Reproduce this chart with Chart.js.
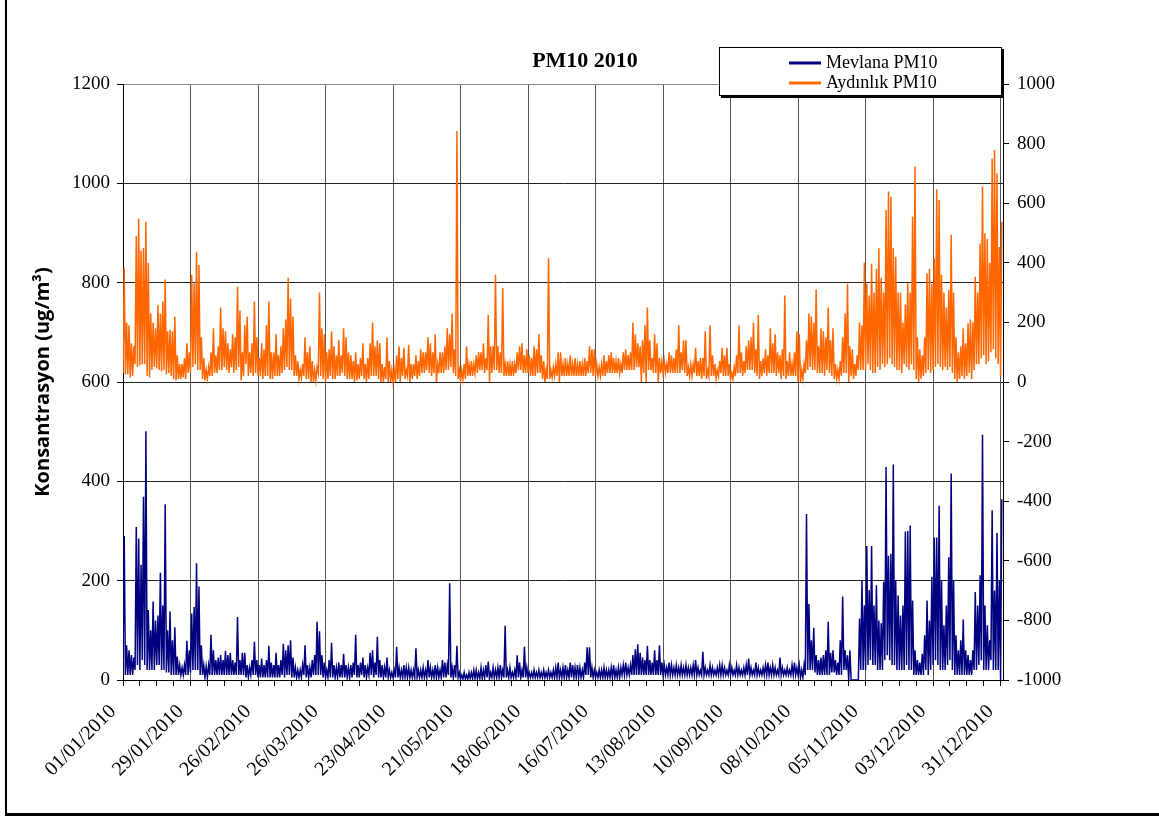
<!DOCTYPE html>
<html lang="tr">

<head>
    <meta charset="UTF-8">
    <title>PM10 2010</title>
    <style>
        body { margin: 0; background: #fff; }
        canvas { display: block; }
    </style>
</head>

<body>
    <canvas id="grafico" width="1159" height="818"></canvas>

    <script src="https://cdn.jsdelivr.net/npm/chart.js@4.4.1/dist/chart.umd.min.js"></script>
    <script>

        // textos do grafico
        const tituloGrafico = 'PM10 2010';
        const tituloEixoY = 'Konsantrasyon (ug/m³)';
        const nomesSeries = ['Mevlana PM10', 'Aydınlık PM10'];

        // rotulos do eixo x (a cada 28 dias)
        const rotulosDatas = ['01/01/2010', '29/01/2010', '26/02/2010', '26/03/2010', '23/04/2010', '21/05/2010',
            '18/06/2010', '16/07/2010', '13/08/2010', '10/09/2010', '08/10/2010', '05/11/2010', '03/12/2010', '31/12/2010'];

        const ticksEsquerda = [0, 200, 400, 600, 800, 1000, 1200];
        const ticksDireita = [-1000, -800, -600, -400, -200, 0, 200, 400, 600, 800, 1000];

        // valores: maximo e minimo de cada dia (ug/m3), 1 linha = 28 dias
        const mevlanaMax = [
            290, 70, 60, 50, 45, 308, 285, 232, 369, 501, 141, 100, 158, 120, 130, 216, 150, 354, 100, 138, 80, 106, 47, 30, 25, 30, 79, 60,
            134, 147, 235, 188, 70, 30, 27, 30, 91, 60, 40, 45, 50, 40, 59, 50, 55, 40, 35, 127, 40, 55, 55, 30, 25, 40, 77, 40,
            30, 43, 30, 40, 69, 35, 30, 55, 30, 40, 73, 60, 70, 80, 45, 25, 20, 20, 30, 70, 30, 25, 40, 50, 117, 98, 50, 35,
            20, 40, 75, 30, 25, 35, 30, 53, 30, 25, 30, 35, 91, 30, 35, 45, 30, 25, 55, 60, 35, 87, 40, 30, 25, 45, 20, 15,
            20, 67, 25, 20, 30, 25, 25, 20, 20, 64, 20, 20, 25, 20, 40, 25, 20, 30, 25, 20, 40, 35, 30, 195, 25, 30, 69, 15,
            10, 15, 10, 15, 15, 20, 20, 15, 25, 20, 30, 37, 15, 25, 20, 25, 30, 20, 109, 20, 25, 15, 20, 50, 35, 20, 67, 25,
            15, 15, 20, 15, 20, 15, 20, 15, 20, 15, 20, 25, 35, 20, 25, 30, 20, 35, 30, 25, 30, 25, 20, 35, 66, 66, 25, 20,
            15, 20, 20, 25, 20, 20, 25, 30, 20, 25, 25, 30, 35, 25, 30, 50, 62, 72, 55, 45, 40, 69, 40, 35, 60, 40, 70, 35,
            30, 25, 35, 30, 25, 30, 25, 30, 25, 30, 25, 25, 30, 40, 25, 20, 57, 25, 20, 30, 25, 20, 25, 30, 30, 25, 20, 30,
            25, 20, 30, 25, 20, 25, 30, 43, 25, 20, 35, 25, 20, 25, 30, 35, 25, 30, 25, 20, 45, 25, 20, 25, 20, 30, 35, 25,
            30, 20, 30, 334, 153, 80, 105, 50, 40, 45, 50, 60, 117, 55, 60, 40, 35, 80, 168, 60, 50, 60, 0, 0, 0, 124, 201, 150,
            270, 181, 270, 150, 191, 120, 114, 198, 429, 250, 254, 434, 200, 170, 130, 150, 299, 300, 311, 160, 60, 40, 35, 53, 90, 160, 120, 208,
            287, 287, 351, 200, 110, 150, 247, 416, 200, 90, 60, 80, 122, 60, 50, 40, 60, 177, 150, 211, 494, 150, 110, 80, 342, 180, 296, 200, 364
        ];
        const mevlanaMin = [
            20, 10, 10, 10, 10, 20, 30, 20, 40, 30, 20, 20, 20, 20, 30, 30, 20, 20, 15, 15, 10, 10, 10, 10, 10, 10, 10, 10,
            15, 20, 20, 20, 10, 10, 5, 5, 10, 10, 10, 10, 10, 10, 10, 10, 10, 10, 10, 10, 10, 10, 10, 5, 5, 10, 10, 10,
            5, 5, 5, 5, 5, 5, 5, 5, 5, 5, 10, 5, 10, 10, 5, 5, 5, 5, 5, 10, 5, 5, 5, 10, 10, 10, 10, 5,
            5, 5, 5, 5, 5, 5, 5, 5, 5, 5, 5, 5, 10, 5, 5, 10, 5, 5, 10, 10, 5, 10, 5, 5, 5, 5, 5, 5,
            5, 5, 5, 5, 5, 5, 5, 5, 5, 5, 5, 5, 5, 5, 5, 5, 5, 5, 5, 5, 5, 5, 5, 10, 5, 5, 5, 5,
            2, 2, 2, 2, 3, 3, 3, 3, 3, 3, 5, 5, 3, 5, 5, 5, 5, 5, 5, 5, 5, 5, 5, 5, 5, 5, 5, 5,
            5, 5, 5, 5, 5, 5, 5, 5, 5, 5, 5, 5, 5, 5, 5, 5, 5, 5, 5, 5, 5, 5, 5, 5, 10, 10, 5, 5,
            5, 5, 5, 5, 5, 5, 5, 5, 5, 5, 5, 10, 10, 10, 10, 10, 10, 10, 10, 10, 10, 10, 10, 10, 10, 10, 10, 10,
            10, 10, 10, 10, 10, 10, 10, 10, 10, 10, 10, 10, 10, 10, 10, 10, 10, 10, 10, 10, 10, 10, 10, 10, 10, 10, 10, 10,
            10, 10, 10, 10, 10, 10, 10, 10, 10, 10, 10, 10, 10, 10, 10, 10, 10, 10, 10, 10, 10, 10, 10, 10, 10, 10, 10, 10,
            10, 5, 5, 10, 20, 20, 20, 15, 10, 10, 10, 10, 10, 10, 15, 15, 10, 10, 10, 20, 20, 0, 0, 0, 0, 0, 20, 20,
            20, 30, 40, 30, 30, 20, 20, 20, 40, 50, 40, 30, 30, 20, 20, 20, 20, 30, 20, 20, 10, 10, 10, 10, 10, 20, 10, 20,
            30, 40, 30, 20, 20, 20, 30, 40, 20, 10, 10, 10, 10, 10, 10, 10, 10, 20, 20, 30, 40, 20, 20, 20, 40, 20, 20, 20, 0
        ];
        const aydinlikMax = [
            381, 200, 190, 130, 120, 490, 549, 440, 450, 538, 400, 230, 200, 180, 258, 230, 270, 344, 170, 175, 170, 220, 90, 60, 60, 80, 130, 100,
            360, 330, 437, 393, 150, 80, 40, 50, 100, 180, 90, 120, 250, 180, 170, 130, 110, 160, 150, 320, 240, 100, 190, 220, 100, 130, 270, 150,
            80, 130, 110, 190, 270, 100, 100, 160, 90, 120, 180, 210, 350, 280, 220, 90, 70, 40, 60, 150, 100, 120, 70, 40, 50, 300, 180, 160,
            100, 110, 170, 120, 90, 140, 90, 180, 150, 100, 90, 70, 100, 60, 80, 130, 60, 80, 130, 200, 120, 140, 130, 60, 50, 150, 70, 40,
            40, 90, 120, 80, 115, 40, 125, 60, 60, 90, 70, 110, 100, 100, 150, 130, 100, 160, 60, 100, 100, 120, 180, 160, 230, 110, 842, 40,
            40, 60, 120, 60, 70, 60, 90, 100, 100, 130, 80, 225, 120, 120, 360, 120, 100, 315, 60, 70, 60, 70, 60, 100, 120, 130, 90, 110,
            90, 80, 120, 110, 160, 90, 70, 40, 415, 40, 50, 60, 100, 100, 60, 80, 60, 90, 60, 80, 60, 70, 60, 80, 70, 120, 110, 110,
            60, 50, 60, 90, 70, 90, 100, 80, 70, 80, 60, 100, 110, 90, 100, 200, 160, 130, 120, 140, 190, 250, 140, 80, 160, 130, 80, 70,
            70, 60, 100, 90, 80, 110, 190, 100, 140, 140, 50, 60, 60, 115, 70, 80, 80, 170, 40, 190, 90, 60, 40, 70, 115, 90, 115, 60,
            30, 50, 90, 190, 100, 70, 120, 140, 150, 200, 110, 225, 70, 80, 110, 90, 180, 130, 160, 100, 90, 110, 290, 70, 100, 60, 100, 170,
            160, 40, 60, 140, 230, 220, 200, 310, 120, 180, 170, 150, 250, 140, 180, 60, 40, 70, 150, 230, 330, 120, 110, 60, 90, 200, 190, 400,
            330, 290, 397, 300, 380, 449, 350, 300, 577, 639, 622, 450, 420, 300, 300, 200, 260, 331, 300, 555, 723, 150, 110, 90, 150, 365, 380, 330,
            415, 647, 611, 360, 300, 250, 309, 494, 300, 150, 100, 120, 180, 130, 197, 210, 200, 353, 300, 465, 656, 499, 480, 400, 750, 778, 700, 453, 538
        ];
        const aydinlikMin = [
            30, 25, 25, 15, 20, 60, 50, 55, 60, 60, 20, 15, 40, 50, 45, 40, 35, 40, 25, 30, 20, 10, 5, 10, 10, 15, 10, 30,
            30, 50, 60, 40, 40, 10, 5, 10, 20, 20, 30, 30, 40, 40, 50, 40, 30, 50, 30, 40, 50, 5, 20, 60, 20, 30, 20, 30,
            20, 20, 10, 20, 20, 10, 10, 20, 20, 20, 30, 40, 50, 40, 40, 20, 20, 10, 15, 20, 10, 10, 0, 0, 5, 30, 20, 10,
            0, 10, 20, 10, 10, 20, 20, 30, 20, 10, 10, 10, 0, 5, 10, 20, 10, 0, 10, 20, 20, 20, 10, 0, 0, 10, 0, 0,
            0, 0, 10, 0, 20, 10, 20, 0, 10, 20, 10, 20, 30, 30, 40, 30, 20, 30, 0, 30, 30, 30, 40, 40, 50, 30, 20, 10,
            5, 10, 10, 20, 20, 20, 30, 30, 40, 40, 30, 40, 0, 30, 40, 40, 30, 30, 20, 20, 20, 20, 20, 30, 40, 40, 30, 30,
            30, 20, 20, 20, 30, 30, 10, 0, 10, 10, 15, 20, 20, 0, 20, 20, 20, 20, 20, 20, 20, 20, 20, 20, 20, 30, 30, 20,
            20, 20, 20, 20, 20, 30, 30, 30, 30, 30, 30, 30, 40, 40, 40, 40, 40, 50, 50, 0, 30, 0, 40, 40, 30, 30, 0, 30,
            30, 30, 30, 30, 30, 30, 30, 30, 40, 30, 20, 20, 20, 30, 20, 20, 10, 20, 10, 20, 20, 20, 10, 20, 30, 20, 20, 20,
            10, 10, 20, 30, 30, 20, 30, 40, 40, 40, 30, 20, 10, 20, 30, 20, 30, 30, 30, 20, 30, 10, 20, 10, 20, 20, 20, 20,
            0, 0, 10, 30, 40, 50, 40, 40, 30, 30, 30, 20, 40, 30, 20, 10, 10, 10, 20, 30, 30, 0, 20, 10, 20, 40, 40, 40,
            40, 60, 40, 30, 30, 50, 40, 60, 50, 60, 80, 60, 50, 40, 40, 30, 60, 50, 40, 60, 40, 10, 0, 10, 20, 30, 40, 30,
            40, 50, 60, 50, 40, 50, 40, 50, 30, 10, 0, 10, 20, 10, 20, 30, 10, 40, 60, 60, 80, 90, 60, 70, 100, 110, 80, 60, 20
        ];

        const corMevlana = '#000080';
        const corAydinlik = '#FF6600';
        const fonteSerif = '"Liberation Serif", "Times New Roman", serif';

        // cada dia vira dois pontos: minimo no inicio do dia, maximo no meio
        function montarPontos(minimos, maximos) {
            let pontos = [];
            for (let i = 0; i < minimos.length; i++) {
                pontos.push({ x: i, y: minimos[i] });
                pontos.push({ x: i + 0.5, y: maximos[i] });
            }
            return pontos;
        }

        // moldura, titulo e legenda desenhados no canvas
        const enfeites = {
            id: 'enfeites',
            beforeDraw(chart) {
                const c = chart.ctx;
                c.save();
                c.fillStyle = '#fff';
                c.fillRect(0, 0, chart.width, chart.height);
                c.restore();
            },
            afterDraw(chart) {
                const c = chart.ctx;
                c.save();

                // moldura externa
                c.strokeStyle = '#000';
                c.lineWidth = 2;
                c.beginPath();
                c.moveTo(6, 0);
                c.lineTo(6, 815);
                c.stroke();
                c.lineWidth = 3;
                c.beginPath();
                c.moveTo(5, 814.5);
                c.lineTo(chart.width, 814.5);
                c.stroke();

                // titulo
                c.fillStyle = '#000';
                c.font = 'bold 22px ' + fonteSerif;
                c.textAlign = 'center';
                c.textBaseline = 'middle';
                c.fillText(tituloGrafico, 585, 61);

                // legenda
                c.fillStyle = '#000';
                c.fillRect(721, 49, 283, 49);
                c.fillStyle = '#fff';
                c.fillRect(719, 47, 283, 49);
                c.lineWidth = 1;
                c.strokeRect(719.5, 47.5, 282, 48);

                const cores = [corMevlana, corAydinlik];
                c.font = '18px ' + fonteSerif;
                c.textAlign = 'left';
                for (let i = 0; i < nomesSeries.length; i++) {
                    const y = 63 + i * 20;
                    c.strokeStyle = cores[i];
                    c.lineWidth = 3;
                    c.beginPath();
                    c.moveTo(789, y);
                    c.lineTo(821, y);
                    c.stroke();
                    c.fillStyle = '#000';
                    c.fillText(nomesSeries[i], 826, y);
                }
                c.restore();
            }
        };

        const ctx = document.getElementById('grafico');

        new Chart(ctx, {
            type: 'line',
            data: {
                datasets: [{
                    label: nomesSeries[0],
                    data: montarPontos(mevlanaMin, mevlanaMax),
                    yAxisID: 'y',
                    borderColor: corMevlana,
                    borderWidth: 1.5,
                    pointRadius: 0,
                    tension: 0
                }, {
                    label: nomesSeries[1],
                    data: montarPontos(aydinlikMin, aydinlikMax),
                    yAxisID: 'y2',
                    borderColor: corAydinlik,
                    borderWidth: 1.5,
                    pointRadius: 0,
                    tension: 0
                }]
            },
            options: {
                responsive: false,
                animation: false,
                layout: { padding: { top: 84, left: 0, right: 0, bottom: 0 } },
                plugins: {
                    legend: { display: false },
                    title: { display: false },
                    tooltip: { enabled: false }
                },
                scales: {
                    x: {
                        type: 'linear',
                        min: 0,
                        max: 365,
                        afterBuildTicks: (escala) => {
                            escala.ticks = [];
                            for (let d = 0; d <= 364; d += 7) escala.ticks.push({ value: d });
                        },
                        afterFit: (escala) => { escala.height = 138; },
                        border: { color: '#000', width: 1 },
                        grid: {
                            color: (c) => (c.tick && c.tick.value % 28 === 0) ? '#555' : 'rgba(0,0,0,0)',
                            tickColor: '#000',
                            tickLength: 6,
                            lineWidth: 1
                        },
                        ticks: {
                            autoSkip: false,
                            minRotation: 45,
                            maxRotation: 45,
                            padding: 14,
                            labelOffset: -10,
                            color: '#000',
                            font: { family: fonteSerif, size: 20 },
                            callback: (v) => v % 28 === 0 ? rotulosDatas[v / 28] : ''
                        }
                    },
                    y: {
                        position: 'left',
                        min: 0,
                        max: 1200,
                        afterBuildTicks: (escala) => { escala.ticks = ticksEsquerda.map(v => ({ value: v })); },
                        afterFit: (escala) => { escala.width = 123; },
                        border: { color: '#000', width: 1 },
                        grid: {
                            color: (c) => (c.tick && c.tick.value === 1200) ? '#888' : '#222',
                            tickColor: '#000',
                            tickLength: 6
                        },
                        ticks: {
                            padding: 7,
                            color: '#000',
                            font: { family: fonteSerif, size: 19 },
                            callback: (v) => String(v)
                        },
                        title: {
                            display: true,
                            text: tituloEixoY,
                            color: '#000',
                            font: { family: '"Open Sans", sans-serif', weight: 'bold', size: 20 },
                            padding: { top: 31, bottom: 0 }
                        }
                    },
                    y2: {
                        position: 'right',
                        min: -1000,
                        max: 1000,
                        afterBuildTicks: (escala) => { escala.ticks = ticksDireita.map(v => ({ value: v })); },
                        afterFit: (escala) => { escala.width = 156; },
                        border: { color: '#000', width: 1 },
                        grid: {
                            drawOnChartArea: false,
                            tickColor: '#000',
                            tickLength: 6
                        },
                        ticks: {
                            padding: 8,
                            color: '#000',
                            font: { family: fonteSerif, size: 19 },
                            callback: (v) => String(v)
                        }
                    }
                }
            },
            plugins: [enfeites]
        });

    </script>
</body>

</html>
